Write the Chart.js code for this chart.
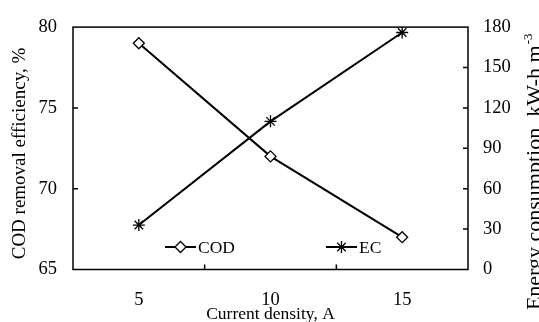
<!DOCTYPE html>
<html>
<head>
<meta charset="utf-8">
<script src="https://cdn.jsdelivr.net/npm/chart.js@4.4.0/dist/chart.umd.min.js"></script>
<style>
    html, body { margin: 0; padding: 0; background: #fff; }
    #contenitore { width: 539px; height: 322px; }
</style>
</head>
<body>
<div id="contenitore"><canvas id="grafico"></canvas></div>
<script>
const categorie = ["5", "10", "15"];
const codValori = [79, 72, 67];      // COD removal efficiency, %
const ecValori = [33, 110, 176];     // Energy consumption, kW-h m-3
const limitiCod = [65, 80];
const limitiEc = [0, 180];

const FONT = "'Liberation Serif', 'Times New Roman', serif";

// cornice, tacche interne, legenda e titoli verticali
const cornice = {
    id: "cornice",
    beforeDatasetsDraw(chart) {
        const { ctx, chartArea: a, scales } = chart;
        const lung = 5;
        ctx.save();
        ctx.strokeStyle = "#000";
        ctx.lineWidth = 1.5;
        ctx.strokeRect(a.left, a.top, a.right - a.left, a.bottom - a.top);
        ctx.beginPath();
        scales.y.ticks.forEach(t => {
            const y = scales.y.getPixelForValue(t.value);
            if (y > a.top + 2 && y < a.bottom - 2) { ctx.moveTo(a.left, y); ctx.lineTo(a.left + lung, y); }
        });
        scales.y1.ticks.forEach(t => {
            const y = scales.y1.getPixelForValue(t.value);
            if (y > a.top + 2 && y < a.bottom - 2) { ctx.moveTo(a.right, y); ctx.lineTo(a.right - lung, y); }
        });
        for (let i = 0; i < categorie.length - 1; i++) {
            const x = (scales.x.getPixelForValue(i) + scales.x.getPixelForValue(i + 1)) / 2;
            ctx.moveTo(x, a.bottom); ctx.lineTo(x, a.bottom - lung);
        }
        ctx.stroke();
        ctx.restore();
    },
    afterDraw(chart) {
        const { ctx, chartArea: a } = chart;
        ctx.save();
        // legenda
        const posizioni = [165, 326];
        const yLeg = 247;
        chart.data.datasets.forEach((ds, i) => {
            const x0 = posizioni[i];
            ctx.strokeStyle = "#000";
            ctx.lineWidth = 2;
            ctx.beginPath();
            ctx.moveTo(x0, yLeg); ctx.lineTo(x0 + 31, yLeg);
            ctx.stroke();
            ctx.fillStyle = "#fff";
            ctx.lineWidth = ds.pointBorderWidth;
            Chart.helpers.drawPoint(ctx, { pointStyle: ds.pointStyle, radius: ds.pointRadius, borderWidth: ds.pointBorderWidth, rotation: 0 }, x0 + 15.5, yLeg);
            ctx.fillStyle = "#000";
            ctx.font = "17.5px " + FONT;
            ctx.textAlign = "left";
            ctx.textBaseline = "middle";
            ctx.fillText(ds.label, x0 + 33, yLeg + 1);
        });
        ctx.restore();

        // titolo asse sinistro
        ctx.save();
        ctx.translate(25, 153.5);
        ctx.rotate(-Math.PI / 2);
        ctx.fillStyle = "#000";
        ctx.textAlign = "center";
        ctx.textBaseline = "alphabetic";
        ctx.font = "19px " + FONT;
        ctx.fillText("COD removal efficiency, %", 0, 0);
        ctx.restore();

        // titolo asse destro (con apice)
        ctx.save();
        ctx.translate(a.right + 73, (a.top + a.bottom) / 2 + 24);
        ctx.rotate(-Math.PI / 2);
        ctx.fillStyle = "#000";
        ctx.textAlign = "left";
        ctx.textBaseline = "alphabetic";
        const testo = "Energy consumption, kW-h m";
        ctx.font = "22px " + FONT;
        const w = ctx.measureText(testo).width;
        ctx.font = "13px " + FONT;
        const ws = ctx.measureText("-3").width;
        const inizio = -(w + ws) / 2;
        ctx.font = "22px " + FONT;
        ctx.fillText(testo, inizio, 0);
        ctx.font = "13px " + FONT;
        ctx.fillText("-3", inizio + w + 1, -9);
        ctx.restore();
    }
};

new Chart(document.getElementById("grafico"), {
    type: "line",
    data: {
        labels: categorie,
        datasets: [{
            label: "COD",
            data: codValori,
            yAxisID: "y",
            borderColor: "#000",
            borderWidth: 2,
            pointStyle: "rectRot",
            pointRadius: 5.5,
            pointBackgroundColor: "#fff",
            pointBorderColor: "#000",
            pointBorderWidth: 1.3,
            tension: 0
        }, {
            label: "EC",
            data: ecValori,
            yAxisID: "y1",
            borderColor: "#000",
            borderWidth: 2,
            pointStyle: "star",
            pointRadius: 6,
            pointBackgroundColor: "#000",
            pointBorderColor: "#000",
            pointBorderWidth: 1.3,
            tension: 0
        }]
    },
    options: {
        responsive: true,
        maintainAspectRatio: false,
        animation: false,
        events: [],
        layout: { padding: { top: 19.5, left: 0, right: 0, bottom: 0 } },
        plugins: {
            legend: { display: false },
            tooltip: { enabled: false }
        },
        scales: {
            x: {
                type: "category",
                offset: true,
                grid: { display: false, drawTicks: false },
                border: { display: false },
                ticks: { color: "#000", font: { family: FONT, size: 18.5 }, padding: 20, maxRotation: 0 },
                title: { display: true, text: "Current density, A", color: "#000", font: { family: FONT, size: 17.5 }, padding: { top: 0, bottom: -3 } },
                afterFit(s) { s.height = 52.5; }
            },
            y: {
                position: "left",
                min: limitiCod[0],
                max: limitiCod[1],
                grid: { display: false, drawTicks: false },
                border: { display: false },
                ticks: { stepSize: 5, color: "#000", font: { family: FONT, size: 18.5 }, padding: 16 },
                afterFit(s) { s.width = 73; }
            },
            y1: {
                position: "right",
                min: limitiEc[0],
                max: limitiEc[1],
                grid: { display: false, drawTicks: false },
                border: { display: false },
                ticks: { stepSize: 30, color: "#000", font: { family: FONT, size: 18.5 }, padding: 15 },
                afterFit(s) { s.width = 71; }
            }
        }
    },
    plugins: [cornice]
});
</script>
</body>
</html>
